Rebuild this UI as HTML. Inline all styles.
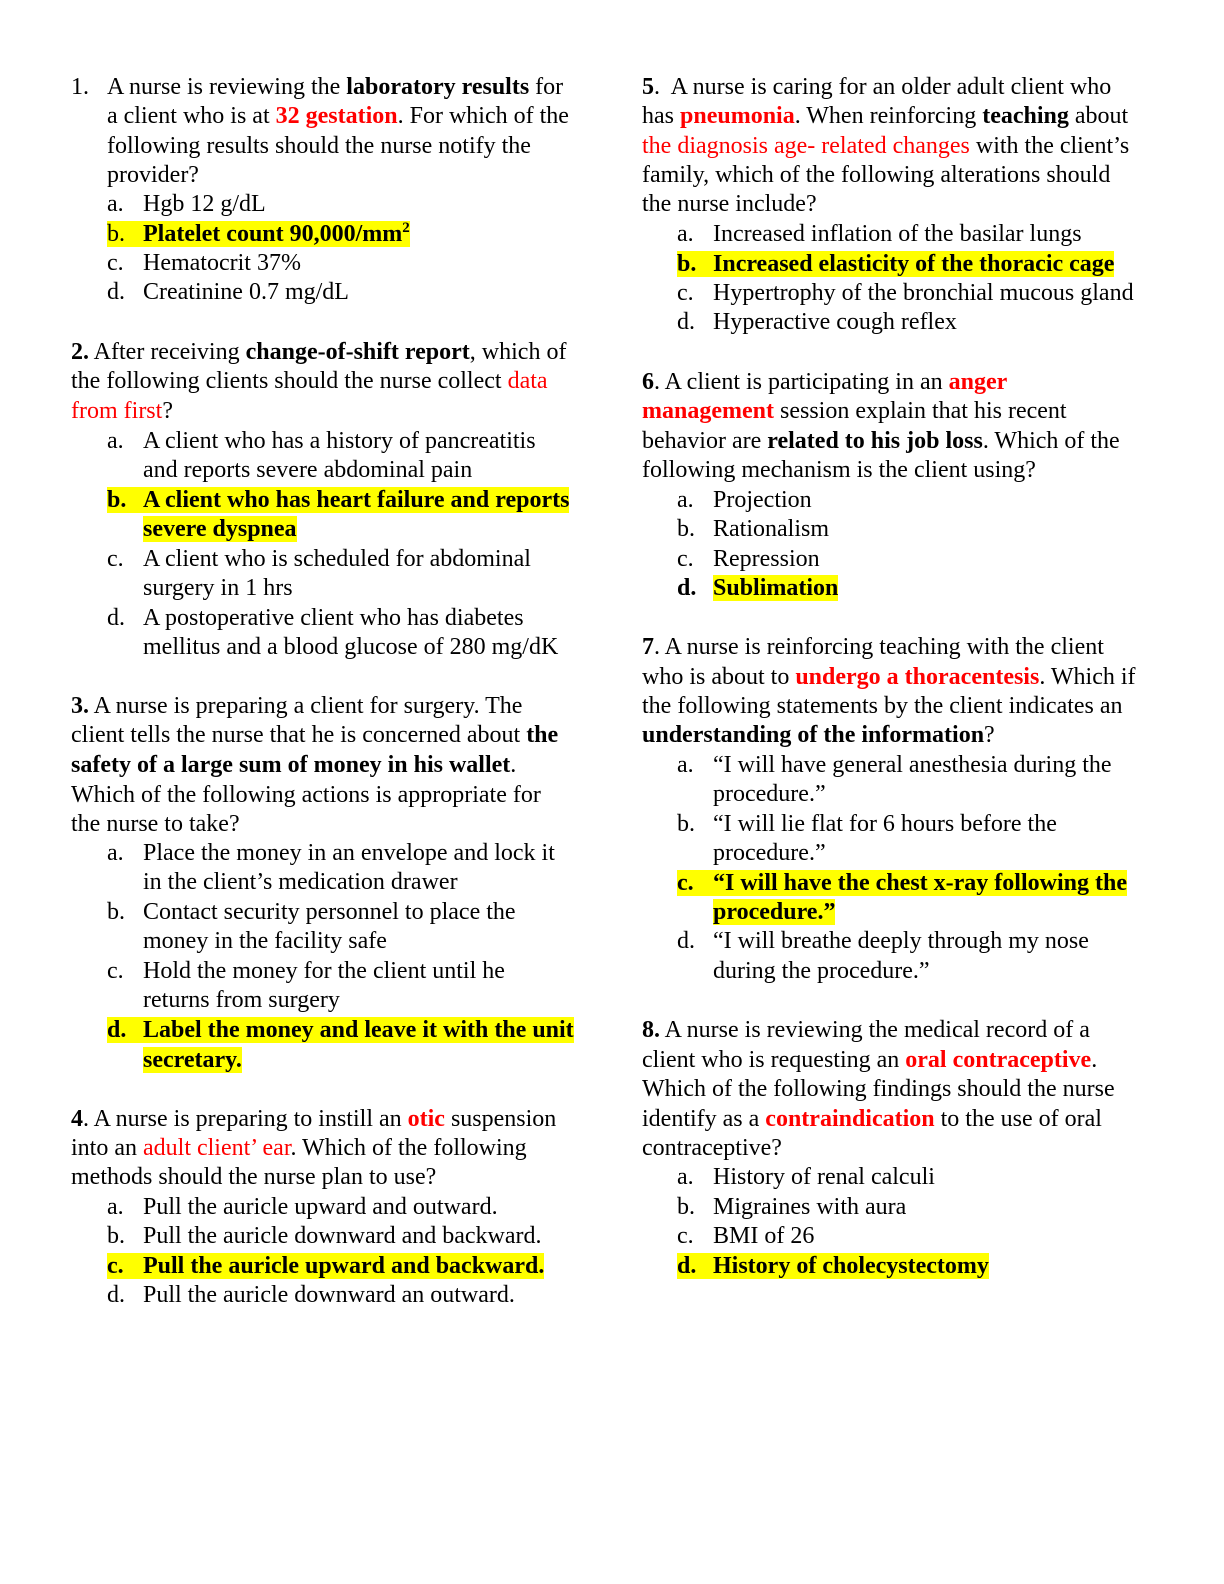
<!DOCTYPE html>
<html><head><meta charset="utf-8"><style>
body{margin:0;width:1224px;height:1584px;background:#fff;position:relative;font-family:"Liberation Serif",serif;font-size:24px;color:#000}
.l{position:absolute;white-space:nowrap;line-height:26px;height:26px}
.r{color:#f00}
b{font-weight:bold}
.h{background:#ff0}
.k{display:inline-block;width:36px}
sup{font-size:15px;vertical-align:9px;line-height:0}
</style></head><body>
<div class="l" style="left:71px;top:74px">1.</div>
<div class="l" style="left:107px;top:74px">A nurse is reviewing the <b>laboratory results</b> for</div>
<div class="l" style="left:107px;top:103px">a client who is at <b class="r">32 gestation</b>. For which of the</div>
<div class="l" style="left:107px;top:133px">following results should the nurse notify the</div>
<div class="l" style="left:107px;top:162px">provider?</div>
<div class="l" style="left:107px;top:191px">a.</div><div class="l" style="left:143px;top:191px">Hgb 12 g/dL</div>
<div class="l h" style="left:107px;top:221px"><span class="k">b.</span><b>Platelet count 90,000/mm<sup>2</sup></b></div>
<div class="l" style="left:107px;top:250px">c.</div><div class="l" style="left:143px;top:250px">Hematocrit 37%</div>
<div class="l" style="left:107px;top:279px">d.</div><div class="l" style="left:143px;top:279px">Creatinine 0.7 mg/dL</div>

<div class="l" style="left:71px;top:339px"><b>2.</b> After receiving <b>change-of-shift report</b>, which of</div>
<div class="l" style="left:71px;top:368px">the following clients should the nurse collect <span class="r">data</span></div>
<div class="l" style="left:71px;top:398px"><span class="r">from first</span>?</div>
<div class="l" style="left:107px;top:428px">a.</div><div class="l" style="left:143px;top:428px">A client who has a history of pancreatitis</div>
<div class="l" style="left:143px;top:457px">and reports severe abdominal pain</div>
<div class="l h" style="left:107px;top:487px"><b class="k">b.</b><b>A client who has heart failure and reports</b></div>
<div class="l h" style="left:143px;top:516px"><b>severe dyspnea</b></div>
<div class="l" style="left:107px;top:546px">c.</div><div class="l" style="left:143px;top:546px">A client who is scheduled for abdominal</div>
<div class="l" style="left:143px;top:575px">surgery in 1 hrs</div>
<div class="l" style="left:107px;top:605px">d.</div><div class="l" style="left:143px;top:605px">A postoperative client who has diabetes</div>
<div class="l" style="left:143px;top:634px">mellitus and a blood glucose of 280 mg/dK</div>

<div class="l" style="left:71px;top:693px"><b>3.</b> A nurse is preparing a client for surgery. The</div>
<div class="l" style="left:71px;top:722px">client tells the nurse that he is concerned about <b>the</b></div>
<div class="l" style="left:71px;top:752px"><b>safety of a large sum of money in his wallet</b>.</div>
<div class="l" style="left:71px;top:782px">Which of the following actions is appropriate for</div>
<div class="l" style="left:71px;top:811px">the nurse to take?</div>
<div class="l" style="left:107px;top:840px">a.</div><div class="l" style="left:143px;top:840px">Place the money in an envelope and lock it</div>
<div class="l" style="left:143px;top:869px">in the client’s medication drawer</div>
<div class="l" style="left:107px;top:899px">b.</div><div class="l" style="left:143px;top:899px">Contact security personnel to place the</div>
<div class="l" style="left:143px;top:928px">money in the facility safe</div>
<div class="l" style="left:107px;top:958px">c.</div><div class="l" style="left:143px;top:958px">Hold the money for the client until he</div>
<div class="l" style="left:143px;top:987px">returns from surgery</div>
<div class="l h" style="left:107px;top:1017px"><b class="k">d.</b><b>Label the money and leave it with the unit</b></div>
<div class="l h" style="left:143px;top:1047px"><b>secretary.</b></div>

<div class="l" style="left:71px;top:1106px"><b>4</b>. A nurse is preparing to instill an <b class="r">otic</b> suspension</div>
<div class="l" style="left:71px;top:1135px">into an <span class="r">adult client’ ear</span>. Which of the following</div>
<div class="l" style="left:71px;top:1164px">methods should the nurse plan to use?</div>
<div class="l" style="left:107px;top:1194px">a.</div><div class="l" style="left:143px;top:1194px">Pull the auricle upward and outward.</div>
<div class="l" style="left:107px;top:1223px">b.</div><div class="l" style="left:143px;top:1223px">Pull the auricle downward and backward.</div>
<div class="l h" style="left:107px;top:1253px"><b class="k">c.</b><b>Pull the auricle upward and backward.</b></div>
<div class="l" style="left:107px;top:1282px">d.</div><div class="l" style="left:143px;top:1282px">Pull the auricle downward an outward.</div>

<div class="l" style="left:642px;top:74px"><b>5</b>.&nbsp; A nurse is caring for an older adult client who</div>
<div class="l" style="left:642px;top:103px">has <b class="r">pneumonia</b>. When reinforcing <b>teaching</b> about</div>
<div class="l" style="left:642px;top:133px"><span class="r">the diagnosis age- related changes</span> with the client’s</div>
<div class="l" style="left:642px;top:162px">family, which of the following alterations should</div>
<div class="l" style="left:642px;top:191px">the nurse include?</div>
<div class="l" style="left:677px;top:221px">a.</div><div class="l" style="left:713px;top:221px">Increased inflation of the basilar lungs</div>
<div class="l h" style="left:677px;top:251px"><b class="k">b.</b><b>Increased elasticity of the thoracic cage</b></div>
<div class="l" style="left:677px;top:280px">c.</div><div class="l" style="left:713px;top:280px">Hypertrophy of the bronchial mucous gland</div>
<div class="l" style="left:677px;top:309px">d.</div><div class="l" style="left:713px;top:309px">Hyperactive cough reflex</div>

<div class="l" style="left:642px;top:369px"><b>6</b>. A client is participating in an <b class="r">anger</b></div>
<div class="l" style="left:642px;top:398px"><b class="r">management</b> session explain that his recent</div>
<div class="l" style="left:642px;top:428px">behavior are <b>related to his job loss</b>. Which of the</div>
<div class="l" style="left:642px;top:457px">following mechanism is the client using?</div>
<div class="l" style="left:677px;top:487px">a.</div><div class="l" style="left:713px;top:487px">Projection</div>
<div class="l" style="left:677px;top:516px">b.</div><div class="l" style="left:713px;top:516px">Rationalism</div>
<div class="l" style="left:677px;top:546px">c.</div><div class="l" style="left:713px;top:546px">Repression</div>
<div class="l" style="left:677px;top:575px"><b>d.</b></div><div class="l h" style="left:713px;top:575px"><b>Sublimation</b></div>

<div class="l" style="left:642px;top:634px"><b>7</b>. A nurse is reinforcing teaching with the client</div>
<div class="l" style="left:642px;top:664px">who is about to <b class="r">undergo a thoracentesis</b>. Which if</div>
<div class="l" style="left:642px;top:693px">the following statements by the client indicates an</div>
<div class="l" style="left:642px;top:722px"><b>understanding of the information</b>?</div>
<div class="l" style="left:677px;top:752px">a.</div><div class="l" style="left:713px;top:752px">“I will have general anesthesia during the</div>
<div class="l" style="left:713px;top:781px">procedure.”</div>
<div class="l" style="left:677px;top:811px">b.</div><div class="l" style="left:713px;top:811px">“I will lie flat for 6 hours before the</div>
<div class="l" style="left:713px;top:840px">procedure.”</div>
<div class="l h" style="left:677px;top:870px"><b class="k">c.</b><b>“I will have the chest x-ray following the</b></div>
<div class="l h" style="left:713px;top:899px"><b>procedure.”</b></div>
<div class="l" style="left:677px;top:928px">d.</div><div class="l" style="left:713px;top:928px">“I will breathe deeply through my nose</div>
<div class="l" style="left:713px;top:958px">during the procedure.”</div>

<div class="l" style="left:642px;top:1017px"><b>8.</b> A nurse is reviewing the medical record of a</div>
<div class="l" style="left:642px;top:1047px">client who is requesting an <b class="r">oral contraceptive</b>.</div>
<div class="l" style="left:642px;top:1076px">Which of the following findings should the nurse</div>
<div class="l" style="left:642px;top:1106px">identify as a <b class="r">contraindication</b> to the use of oral</div>
<div class="l" style="left:642px;top:1135px">contraceptive?</div>
<div class="l" style="left:677px;top:1164px">a.</div><div class="l" style="left:713px;top:1164px">History of renal calculi</div>
<div class="l" style="left:677px;top:1194px">b.</div><div class="l" style="left:713px;top:1194px">Migraines with aura</div>
<div class="l" style="left:677px;top:1223px">c.</div><div class="l" style="left:713px;top:1223px">BMI of 26</div>
<div class="l h" style="left:677px;top:1253px"><b class="k">d.</b><b>History of cholecystectomy</b></div>
</body></html>
